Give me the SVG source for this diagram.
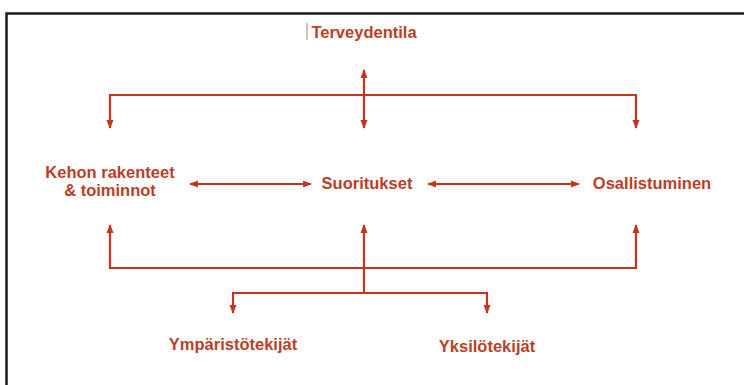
<svg xmlns="http://www.w3.org/2000/svg" width="744" height="385" viewBox="0 0 744 385">
<style>
.frame{fill:none;stroke:#1a1a1a;stroke-width:2.5}
.ln{fill:none;stroke:#c2361f;stroke-width:2.2}
.lbl{font-family:"Liberation Sans",Arial,sans-serif;font-weight:bold;font-size:16.5px;fill:#bb3e28;text-anchor:middle}
</style>
<defs>
<marker id="ah" viewBox="0 0 10 10" refX="9" refY="5" markerWidth="4" markerHeight="4" orient="auto-start-reverse" markerUnits="strokeWidth">
<path d="M0,1 L10,5 L0,9 z" fill="#c2361f"/>
</marker>
</defs>
<rect width="744" height="385" fill="#ffffff"/>
<path class="frame" d="M6.5,390 V13.5 H750"/>
<g id="connectors">
<path class="ln" d="M110,128 V95 H636 V128" marker-start="url(#ah)" marker-end="url(#ah)"/>
<path class="ln" d="M364,70 V128" marker-start="url(#ah)" marker-end="url(#ah)"/>
<path class="ln" d="M190,184 H311" marker-start="url(#ah)" marker-end="url(#ah)"/>
<path class="ln" d="M428,184 H579" marker-start="url(#ah)" marker-end="url(#ah)"/>
<path class="ln" d="M110,225 V268 H636 V225" marker-start="url(#ah)" marker-end="url(#ah)"/>
<path class="ln" d="M364,225 V293" marker-start="url(#ah)"/>
<path class="ln" d="M233,313 V293 H487 V313" marker-start="url(#ah)" marker-end="url(#ah)"/>
</g>
<g id="terveydentila">
<line x1="307" y1="23" x2="307" y2="40" stroke="#c07a6a" stroke-width="1"/>
<text class="lbl" x="364" y="38">Terveydentila</text>
</g>
<g id="kehon">
<text class="lbl" x="110" y="178">Kehon rakenteet</text>
<text class="lbl" x="110" y="196">&amp; toiminnot</text>
</g>
<g id="suoritukset">
<text class="lbl" x="367" y="189">Suoritukset</text>
</g>
<g id="osallistuminen">
<text class="lbl" x="652" y="189">Osallistuminen</text>
</g>
<g id="ymparisto">
<text class="lbl" x="233" y="350">Ympäristötekijät</text>
</g>
<g id="yksilo">
<text class="lbl" x="487" y="352">Yksilötekijät</text>
</g>
</svg>
